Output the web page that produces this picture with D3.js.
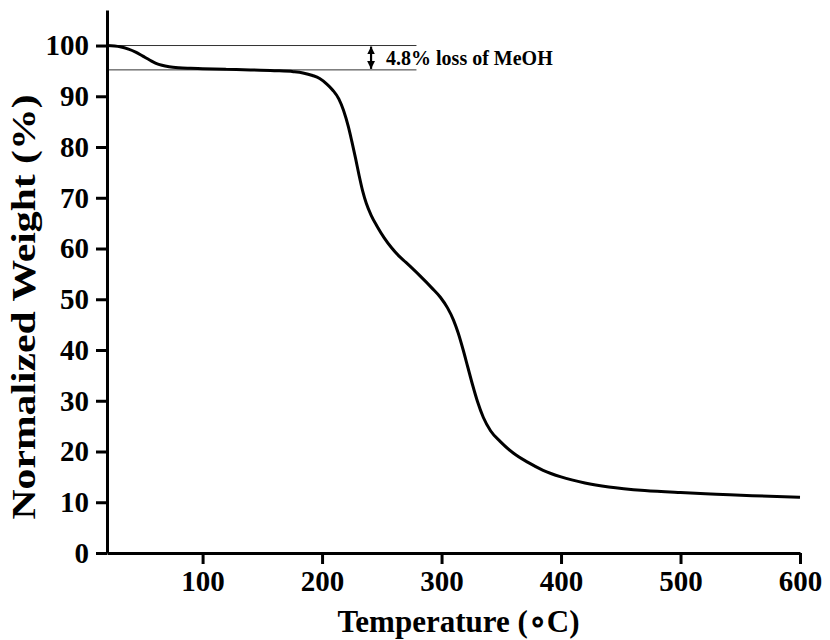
<!DOCTYPE html>
<html>
<head>
<meta charset="utf-8">
<script src="https://cdn.jsdelivr.net/npm/d3@7"></script>
<style>
  body { margin: 0; background: #fff; }
  text { font-family: "Liberation Serif", "Times New Roman", serif; font-weight: bold; }
</style>
</head>
<body>
<script>
// TGA curve
var temps = [20, 31, 38, 44, 50, 56, 61, 66, 72, 80, 90, 100, 120, 140, 160, 176, 184, 192, 198, 204, 209, 214,
    218, 222, 225, 228, 231, 234, 237, 241, 246, 252, 258, 264, 270, 282, 292, 299, 305, 310, 314, 318,
    322, 326, 330, 335, 341, 349, 360, 372, 385, 400, 420, 440, 470, 500, 530, 560, 600];
var weights = [100, 99.75, 99.3, 98.7, 97.9, 97.1, 96.5, 96.1, 95.8, 95.6, 95.5, 95.43, 95.3, 95.2, 95.05, 94.85, 94.6, 94.1, 93.5, 92.4, 91.2, 89.5,
    87.2, 84, 81, 77.8, 74.4, 71.3, 68.9, 66.6, 64.4, 62.1, 60.2, 58.6, 57.3, 54.6, 52.2, 50.4, 48.3, 45.9, 43.3, 40.1,
    36.6, 33.1, 29.9, 26.7, 24.1, 22, 19.7, 17.9, 16.3, 15.0, 13.8, 13.0, 12.3, 11.9, 11.6, 11.3, 11.0];

var xTicks = [100, 200, 300, 400, 500, 600];
var yTicks = [0, 10, 20, 30, 40, 50, 60, 70, 80, 90, 100];

// annotation: mass loss levels, end of guide lines, arrow position
var lossLevels = [100, 95.2];
var lossLineEnd = 279;
var arrowAt = 241;
var lossLabel = "4.8% loss of MeOH";

var margin = { top: 10, right: 30, bottom: 87, left: 107 };
var width = 830 - margin.left - margin.right;
var height = 640 - margin.top - margin.bottom;

var svg = d3.select("body")
    .append("svg")
    .attr("width", 830)
    .attr("height", 640)
    .append("g")
    .attr("transform", "translate(" + margin.left + "," + margin.top + ")");

var x = d3.scaleLinear().domain([20, 600]).range([0, width]);
var y = d3.scaleLinear().domain([0, 107]).range([height, 0]);

// guide lines for the methanol loss
svg.selectAll("line.guide")
    .data(lossLevels)
    .enter()
    .append("line")
    .attr("class", "guide")
    .attr("x1", x(20))
    .attr("x2", x(lossLineEnd))
    .attr("y1", d => y(d))
    .attr("y2", d => y(d))
    .attr("stroke", "#333")
    .attr("stroke-width", 1);

// double arrow
var defs = svg.append("defs");
defs.append("marker")
    .attr("id", "head")
    .attr("viewBox", "0 0 10 10")
    .attr("refX", 10)
    .attr("refY", 5)
    .attr("markerWidth", 3.6)
    .attr("markerHeight", 4.2)
    .attr("orient", "auto-start-reverse")
    .append("path")
    .attr("d", "M0,0L10,5L0,10Z")
    .attr("fill", "#000");

svg.append("line")
    .attr("x1", x(arrowAt))
    .attr("x2", x(arrowAt))
    .attr("y1", y(lossLevels[0]) + 1)
    .attr("y2", y(lossLevels[1]) - 1)
    .attr("stroke", "#000")
    .attr("stroke-width", 2.2)
    .attr("marker-start", "url(#head)")
    .attr("marker-end", "url(#head)");

svg.append("text")
    .attr("x", x(arrowAt) + 15)
    .attr("y", (y(lossLevels[0]) + y(lossLevels[1])) / 2 + 7)
    .style("font-size", "20px")
    .text(lossLabel);

// curve
var points = temps.map((t, i) => ({ t: t, w: weights[i] }));
svg.append("path")
    .datum(points)
    .attr("fill", "none")
    .attr("stroke", "#000")
    .attr("stroke-width", 3)
    .attr("d", d3.line()
        .x(d => x(d.t))
        .y(d => y(d.w))
        .curve(d3.curveMonotoneX));

// Eixo X
var gx = svg.append("g")
    .attr("transform", "translate(0," + height + ")")
    .call(d3.axisBottom(x).tickValues(xTicks).tickSize(11).tickSizeOuter(0).tickPadding(6));

// Eixo Y
var gy = svg.append("g")
    .call(d3.axisLeft(y).tickValues(yTicks).tickSize(11).tickSizeOuter(0).tickPadding(7));

[gx, gy].forEach(g => {
    g.selectAll("path, line").attr("stroke", "#000").attr("stroke-width", 3);
    g.selectAll("text").attr("fill", "#000").style("font-size", "29px")
        .style("font-family", "'Liberation Serif', 'Times New Roman', serif");
});

// axis titles
svg.append("text")
    .text("Temperature (\u2218C)")
    .attr("x", width / 2 + 5)
    .attr("y", height + 79)
    .attr("text-anchor", "middle")
    .style("font-size", "31px");

svg.append("text")
    .text("Normalized Weight (%)")
    .attr("transform", "rotate(-90)")
    .attr("x", -297)
    .attr("y", -72)
    .attr("text-anchor", "middle")
    .attr("textLength", 425)
    .attr("lengthAdjust", "spacingAndGlyphs")
    .style("font-size", "34px");
</script>
</body>
</html>
